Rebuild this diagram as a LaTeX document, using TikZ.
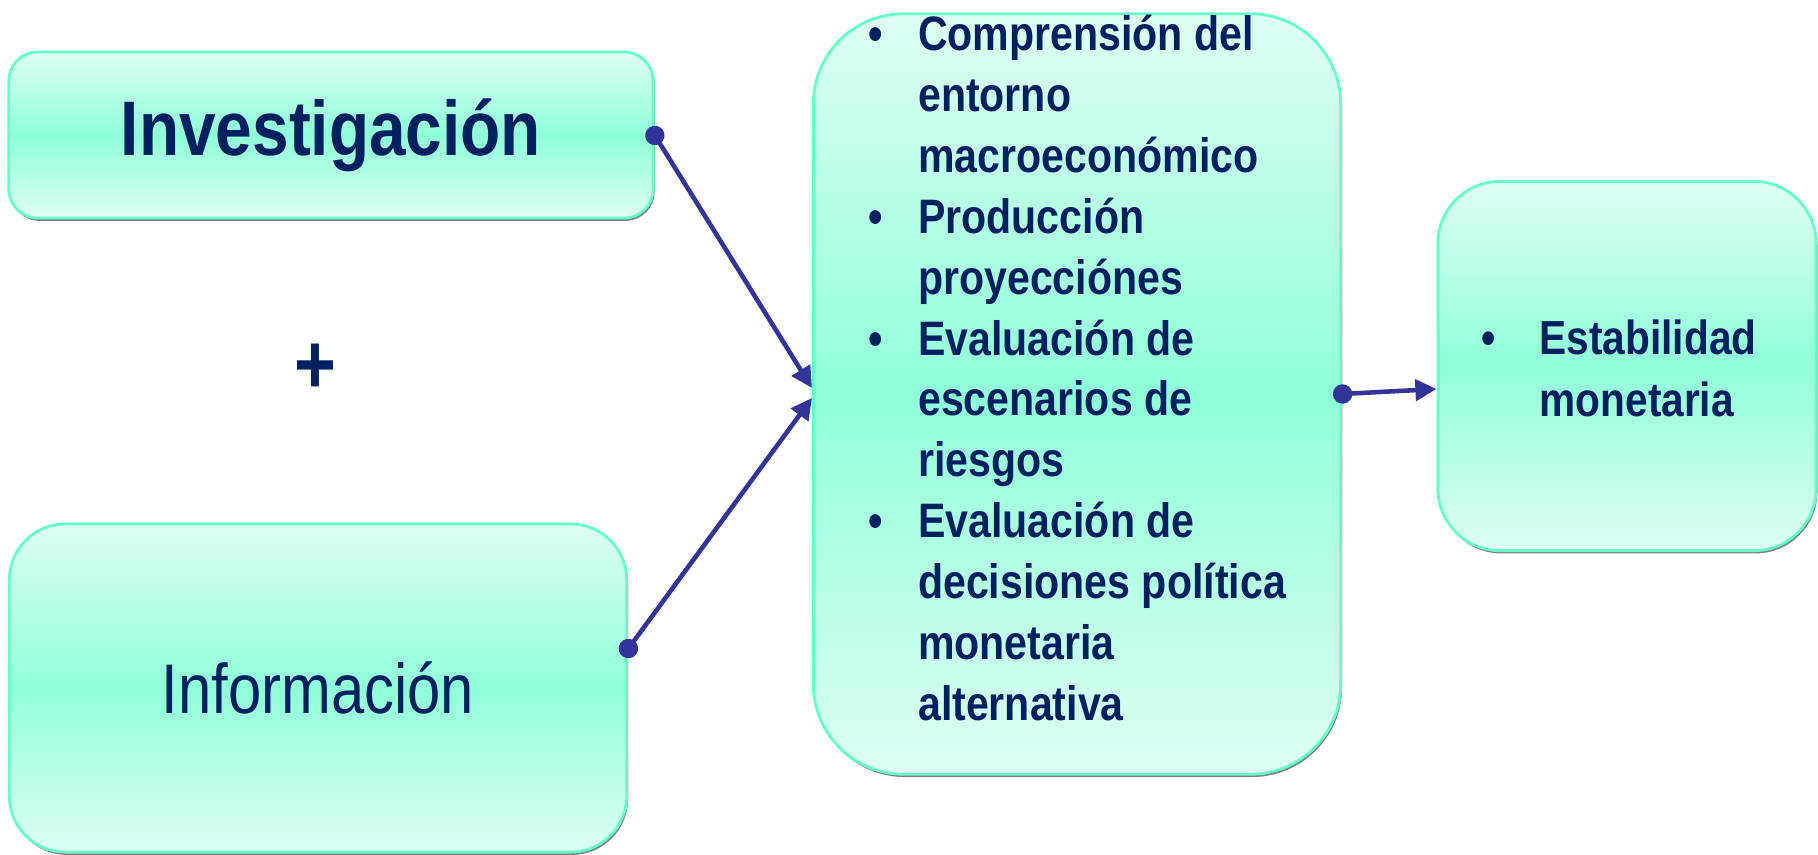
\documentclass[tikz,border=0pt]{standalone}
\usepackage{fontspec}
\setmainfont[FakeStretch=0.85]{Liberation Sans}
\usetikzlibrary{arrows.meta,shadows}
\definecolor{mintpale}{RGB}{222,255,242}
\definecolor{mintdeep}{RGB}{143,255,216}
\definecolor{mintline}{RGB}{102,255,204}
\definecolor{navytext}{RGB}{0,32,96}
\definecolor{linkblue}{RGB}{51,51,153}
\begin{document}
\begin{tikzpicture}[x=0.01cm,y=0.01cm,
		mintbox/.style={rectangle,draw=mintline,line width=0.8pt,
				top color=mintpale,bottom color=mintpale,middle color=mintdeep,
				text=navytext,
				drop shadow={shadow xshift=0.4pt,shadow yshift=-0.8pt,fill=gray,opacity=1}},
		link/.style={draw=linkblue,line width=1.3pt,shorten <=-2.6pt,
				{Circle[length=5.5pt]}-{Triangle[length=6pt,width=6pt]}}]
		\useasboundingbox (0,0) rectangle (1818,854);

		\node[mintbox,minimum width=6.44cm,minimum height=1.66cm,rounded corners=0.29cm,
			font=\bfseries\fontsize{22}{26}\selectfont] (inv) at (331,719) {Investigación};
		\node[text=navytext,font=\bfseries\fontsize{24}{28}\selectfont] (plus) at (315,485) {+};
		\node[mintbox,minimum width=6.17cm,minimum height=3.28cm,rounded corners=0.56cm,
			font=\fontsize{20}{24}\selectfont] (info) at (318,166) {Información};

		\node[mintbox,minimum width=5.27cm,minimum height=7.6cm,rounded corners=0.9cm,
			font=\bfseries\fontsize{13.75}{17.3}\selectfont] (mid) at (1077,460) {\raisebox{0.08cm}[0pt][0pt]{%
				\begin{tabular}{@{}p{0.5cm}@{}l@{}}
					• & Comprensión del     \\
					  & entorno             \\
					  & macroeconómico      \\
					• & Producción          \\
					  & proyecciónes        \\
					• & Evaluación de       \\
					  & escenarios de       \\
					  & riesgos             \\
					• & Evaluación de       \\
					  & decisiones política \\
					  & monetaria           \\
					  & alternativa
				\end{tabular}}};

		\node[mintbox,minimum width=3.78cm,minimum height=3.69cm,rounded corners=0.62cm,
			font=\bfseries\fontsize{13.6}{17.5}\selectfont] (goal) at (1627,488) {\raisebox{-0.2cm}[0pt][0pt]{%
				\hspace*{-0.16cm}\begin{tabular}{@{}p{0.58cm}@{}l@{}}
					• & Estabilidad \\
					  & monetaria
				\end{tabular}}};

		\draw[link] (inv.east) -- ([yshift=0.06cm]mid.west);
		\draw[link] ([yshift=0.39cm]info.east) -- ([yshift=-0.04cm]mid.west);
		\draw[link] (mid.east) -- ([yshift=-0.23cm]goal.west);
	\end{tikzpicture}
\end{document}
